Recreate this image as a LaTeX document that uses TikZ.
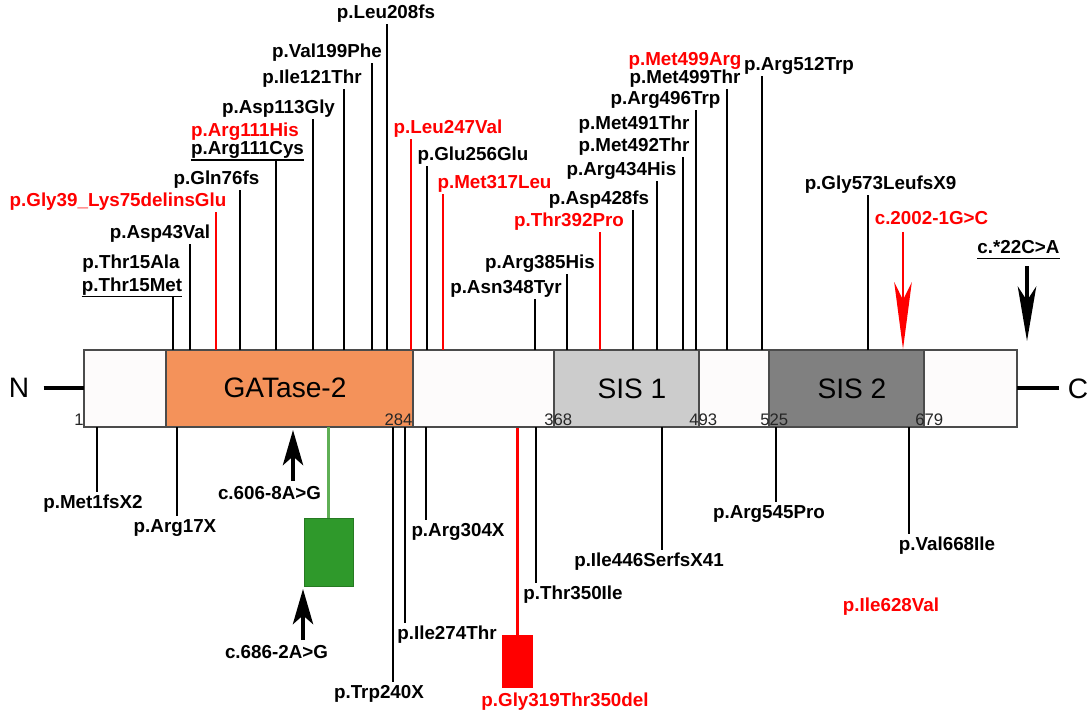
\documentclass[tikz,border=0pt]{standalone}
\usepackage{fontspec}
\setmainfont{Liberation Sans}
\usetikzlibrary{arrows.meta, positioning}
\definecolor{gatorange}{RGB}{244,146,90}
\definecolor{sisone}{RGB}{204,204,204}
\definecolor{sistwo}{RGB}{128,128,128}
\definecolor{segwhite}{RGB}{253,251,251}
\definecolor{barline}{RGB}{75,75,75}
\definecolor{mutred}{RGB}{255,0,0}
\definecolor{linkgreen}{RGB}{95,175,85}
\definecolor{boxgreen}{RGB}{47,153,43}

\begin{document}
\begin{tikzpicture}[x=0.02cm, y=-0.02cm]
    \tikzset{
        mut node/.style={font=\fontsize{10.7}{12}\selectfont\bfseries, inner sep=0pt, text height=8pt, text depth=2.3pt},
        red node/.style={mut node, text=mutred},
        dom node/.style={font=\fontsize{16}{18}\selectfont, inner sep=0pt},
        pos node/.style={font=\fontsize{9.5}{11}\selectfont, inner sep=0pt, text=black!85},
        mut line/.style={line width=1.6pt, shorten >=1pt},
        red line/.style={line width=1.3pt, draw=mutred, shorten >=1pt},
        seg/.style={draw=barline, line width=0.8pt},
        uline/.style={line width=0.9pt},
        term line/.style={line width=2.4pt},
        up arrow/.style={line width=2.3pt, -{Stealth[length=20pt, width=11.5pt, inset=5pt]}},
        down arrow/.style={line width=2.3pt, -{Stealth[length=31pt, width=10.5pt, inset=8pt]}},
        red arrow/.style={line width=1.4pt, draw=mutred, fill=mutred, -{Stealth[length=38pt, width=10pt, inset=10pt]}}
    }
\useasboundingbox (0,0) rectangle (1091,713);

\draw[seg, fill=segwhite] (84,350) rectangle (166,427);
\draw[seg, fill=gatorange] (166,350) rectangle (413,427);
\draw[seg, fill=segwhite] (413,350) rectangle (554,427);
\draw[seg, fill=sisone] (554,350) rectangle (699,427);
\draw[seg, fill=segwhite] (699,350) rectangle (769,427);
\draw[seg, fill=sistwo] (769,350) rectangle (924,427);
\draw[seg, fill=segwhite] (924,350) rectangle (1017,427);

\node[dom node] (gat) at (285,388) {GATase-2};
\node[dom node] (sis1) at (632,389) {SIS 1};
\node[dom node] (sis2) at (852,389) {SIS 2};
\node[dom node] (nterm) at (19,388) {N};
\node[dom node] (cterm) at (1078,389) {C};
\coordinate (barw) at (84,388);
\coordinate (bare) at (1017,388);
\draw[term line, shorten <=8pt] (nterm.east) -- (barw);
\draw[term line, shorten >=5pt] (bare) -- (cterm.west |- bare);

\node[pos node] (n1) at (79,420) {1};
\node[pos node] (n284) at (398.5,420) {284};
\node[pos node, anchor=west] (n368) at (544,420) {368};
\node[pos node, anchor=west] (n493) at (689,420) {493};
\node[pos node, anchor=west] (n525) at (760,420) {525};
\node[pos node, anchor=west] (n679) at (915,420) {679};

\node[mut node] (t15a) at (131,263) {p.Thr15Ala};
\node[mut node] (t15m) at (132,286) {p.Thr15Met};
\node[mut node] (a43) at (160,233) {p.Asp43Val};
\node[red node] (g39) at (118,201) {p.Gly39\_Lys75delinsGlu};
\node[mut node] (q76) at (216.5,179) {p.Gln76fs};
\node[red node] (r111h) at (245,131) {p.Arg111His};
\node[mut node] (r111c) at (247.5,149) {p.Arg111Cys};
\node[mut node] (d113) at (278.5,108) {p.Asp113Gly};
\node[mut node] (i121) at (312,78) {p.Ile121Thr};
\node[mut node] (v199) at (327,52) {p.Val199Phe};
\node[mut node] (l208) at (386,13) {p.Leu208fs};
\node[red node] (l247) at (448,128) {p.Leu247Val};
\node[mut node] (e256) at (473,155) {p.Glu256Glu};
\node[red node] (m317) at (494.5,183) {p.Met317Leu};
\node[mut node] (n348) at (506,288) {p.Asn348Tyr};
\node[mut node] (r385) at (540,263) {p.Arg385His};
\node[red node] (t392) at (569,221) {p.Thr392Pro};
\node[mut node] (d428) at (599,199) {p.Asp428fs};
\node[mut node] (r434) at (621.5,170) {p.Arg434His};
\node[mut node] (m491) at (634,124) {p.Met491Thr};
\node[mut node] (m492) at (634,146) {p.Met492Thr};
\node[mut node] (r496) at (665.5,99) {p.Arg496Trp};
\node[red node] (m499r) at (685,60) {p.Met499Arg};
\node[mut node] (m499t) at (685,78) {p.Met499Thr};
\node[mut node] (r512) at (799,65) {p.Arg512Trp};
\node[mut node] (g573) at (880.5,184) {p.Gly573LeufsX9};
\node[red node] (c2002) at (931.5,219) {c.2002-1G>C};
\node[mut node] (c22) at (1018.5,248) {c.*22C>A};

\draw[uline] ([yshift=-0.6pt]t15m.south west) -- ([yshift=-0.6pt]t15m.south east);
\draw[uline] ([yshift=-0.8pt]r111c.south west) -- ([yshift=-0.8pt]r111c.south east);
\draw[uline] ([yshift=-0.6pt]c22.south west) -- ([yshift=-0.6pt]c22.south east);

\coordinate (b15) at (173,350);
\coordinate (b43) at (190,350);
\coordinate (b39) at (216,350);
\coordinate (b76) at (240,350);
\coordinate (b111) at (276,350);
\coordinate (b113) at (313,350);
\coordinate (b121) at (344,350);
\coordinate (b199) at (372,350);
\coordinate (b208) at (387,350);
\coordinate (b247) at (411,350);
\coordinate (b256) at (427,350);
\coordinate (b317) at (443,350);
\coordinate (b348) at (535,350);
\coordinate (b385) at (567,350);
\coordinate (b392) at (600,350);
\coordinate (b428) at (633,350);
\coordinate (b434) at (657,350);
\coordinate (b491) at (683,350);
\coordinate (b496) at (696,350);
\coordinate (b499) at (727,350);
\coordinate (b512) at (762,350);
\coordinate (b573) at (868,350);
\coordinate (b2002) at (903,349);
\coordinate (b22) at (1027,341);

\draw[mut line] (b15) -- (b15 |- t15m.south);
\draw[mut line] (b43) -- (b43 |- a43.south);
\draw[red line] (b39) -- (b39 |- g39.south);
\draw[mut line] (b76) -- (b76 |- q76.south);
\draw[mut line] (b111) -- (b111 |- r111c.south);
\draw[mut line] (b113) -- (b113 |- d113.south);
\draw[mut line] (b121) -- (b121 |- i121.south);
\draw[mut line] (b199) -- (b199 |- v199.south);
\draw[mut line] (b208) -- (b208 |- l208.south);
\draw[red line] (b247) -- (b247 |- l247.south);
\draw[mut line] (b256) -- (b256 |- e256.south);
\draw[red line] (b317) -- (b317 |- m317.south);
\draw[mut line] (b348) -- (b348 |- n348.south);
\draw[mut line] (b385) -- (b385 |- r385.south);
\draw[red line] (b392) -- (b392 |- t392.south);
\draw[mut line] (b428) -- (b428 |- d428.south);
\draw[mut line] (b434) -- (b434 |- r434.south);
\draw[mut line] (b491) -- (b491 |- m492.south);
\draw[mut line] (b496) -- (b496 |- r496.south);
\draw[mut line] (b499) -- (b499 |- m499t.south);
\draw[mut line] (b512) -- (b512 |- r512.south);
\draw[mut line] (b573) -- (b573 |- g573.south);
\draw[red arrow, shorten <=2pt] (b2002 |- c2002.south) -- (b2002);
\draw[down arrow, shorten <=5pt] (b22 |- c22.south) -- (b22);

\node[mut node] (m1) at (93,503) {p.Met1fsX2};
\node[mut node] (r17) at (175,527) {p.Arg17X};
\node[mut node] (c606) at (269.5,494) {c.606-8A>G};
\node[mut node] (c686) at (276.5,653) {c.686-2A>G};
\node[mut node] (w240) at (379,693) {p.Trp240X};
\node[mut node] (i274) at (447,634) {p.Ile274Thr};
\node[mut node] (r304) at (458,531) {p.Arg304X};
\node[red node] (g319) at (565,701) {p.Gly319Thr350del};
\node[mut node] (t350) at (573,594) {p.Thr350Ile};
\node[mut node] (i446) at (649,561) {p.Ile446SerfsX41};
\node[mut node] (r545) at (769,513) {p.Arg545Pro};
\node[mut node] (v668) at (947,545) {p.Val668Ile};
\node[red node] (i628) at (891,606) {p.Ile628Val};

\node[fill=boxgreen, draw=boxgreen!80!black, line width=0.4pt, minimum width=27.9pt, minimum height=38.7pt, inner sep=0pt] (gbox) at (328.5,552) {};
\node[fill=mutred, minimum width=17.6pt, minimum height=30.2pt, inner sep=0pt] (rbox) at (517.5,661.5) {};

\coordinate (d1) at (97,427);
\coordinate (d17) at (177,427);
\coordinate (d606) at (293,430);
\coordinate (dg) at (328.5,427);
\coordinate (d686) at (303,589);
\coordinate (d240) at (393,427);
\coordinate (d274) at (405,427);
\coordinate (d304) at (426,427);
\coordinate (d319) at (517.5,428);
\coordinate (d350) at (536,427);
\coordinate (d446) at (662,427);
\coordinate (d545) at (776,427);
\coordinate (d668) at (909,427);

\draw[mut line] (d1) -- (d1 |- m1.north);
\draw[mut line] (d17) -- (d17 |- r17.north);
\draw[up arrow, shorten <=2pt] (d606 |- c606.north) -- (d606);
\draw[line width=1.4pt, draw=linkgreen] (dg) -- (gbox.north);
\draw[up arrow, shorten <=2pt] (d686 |- c686.north) -- (d686);
\draw[mut line] (d240) -- (d240 |- w240.north);
\draw[mut line] (d274) -- (d274 |- i274.north);
\draw[mut line] (d304) -- (d304 |- r304.north);
\draw[line width=1.3pt, draw=mutred] (d319) -- (rbox.north);
\draw[mut line] (d350) -- (d350 |- t350.north);
\draw[mut line] (d446) -- (d446 |- i446.north);
\draw[mut line] (d545) -- (d545 |- r545.north);
\draw[mut line] (d668) -- (d668 |- v668.north);
\end{tikzpicture}
\end{document}
